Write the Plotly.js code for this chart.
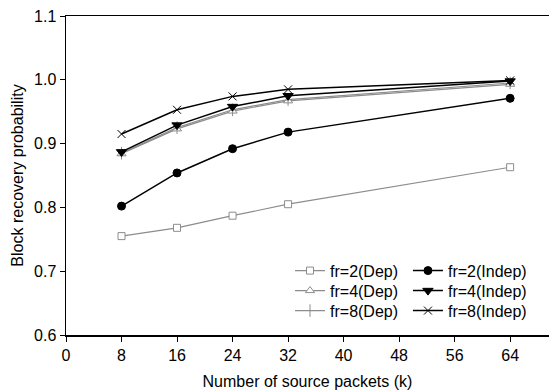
<!DOCTYPE html>
<html>
<head>
<meta charset="utf-8">
<script src="https://cdn.plot.ly/plotly-3.0.1.min.js"></script>
<style>html,body{margin:0;padding:0;background:#fff;}#chart{width:549px;height:390px;}</style>
</head>
<body>
<div id="chart"></div>
<script>
const k = [8, 16, 24, 32, 64];
const fr2Dep = [0.755, 0.768, 0.787, 0.805, 0.863];
const fr2Indep = [0.802, 0.854, 0.892, 0.918, 0.971];
const fr4Dep = [0.884, 0.923, 0.951, 0.967, 0.993];
const fr4Indep = [0.887, 0.929, 0.958, 0.975, 0.998];
const fr8Dep = [0.885, 0.925, 0.953, 0.969, 0.995];
const fr8Indep = [0.915, 0.953, 0.974, 0.985, 0.999];
const names = ['fr=2(Dep)', 'fr=2(Indep)', 'fr=4(Dep)', 'fr=4(Indep)', 'fr=8(Dep)', 'fr=8(Indep)'];
const xTicks = [0, 8, 16, 24, 32, 40, 48, 56, 64];
const yTicks = [0.6, 0.7, 0.8, 0.9, 1.0, 1.1];

const gray = '#8c8c8c';
function tr(y, name, color, symbol, size, fill, legend, lw) {
  return {x: k, y: y, name: name, type: 'scatter', mode: 'lines+markers', legend: legend,
    line: {color: color, width: lw},
    marker: {symbol: symbol, size: size, color: fill, line: {color: color, width: 1}}};
}
const data = [
  tr(fr2Dep, names[0], gray, 'square', 7, '#fff', 'legend', 1.2),
  tr(fr4Dep, names[2], gray, 'triangle-up', 8, '#fff', 'legend3', 1.2),
  tr(fr8Dep, names[4], gray, 'line-ns-open', 9, gray, 'legend5', 1.2),
  tr(fr2Indep, names[1], '#000', 'circle', 8, '#000', 'legend2', 1.5),
  tr(fr4Indep, names[3], '#000', 'triangle-down', 9, '#000', 'legend4', 1.5),
  tr(fr8Indep, names[5], '#000', 'x-thin-open', 8, '#000', 'legend6', 1.5)
];
const font = {family: 'Liberation Sans, Arial, sans-serif', size: 16, color: '#000'};
function leg(x, y) {
  return {font: {family: 'Liberation Sans, Arial, sans-serif', size: 16, color: '#000'},
    bgcolor: 'rgba(0,0,0,0)', borderwidth: 0, yanchor: 'middle', y: y, xanchor: 'left', x: x,
    tracegroupgap: 0, itemwidth: 30};
}
const c1 = 0.4638, c2 = 0.708;
const r1 = 0.2016, r2 = 0.1389, r3 = 0.0762;
const layout = {
  width: 549, height: 390,
  margin: {l: 66, r: 0, t: 16, b: 55},
  paper_bgcolor: '#fff', plot_bgcolor: '#fff',
  font: font,
  showlegend: true,
  xaxis: {range: [0, 69.6], tickvals: xTicks, ticktext: xTicks.map(String),
    showgrid: false, zeroline: false, showline: true, linecolor: '#000', linewidth: 1.5,
    mirror: true, ticks: 'outside', ticklen: 5, tickcolor: '#000',
    title: {text: 'Number of source packets (k)', font: font, standoff: 13}},
  yaxis: {range: [0.6, 1.1], tickvals: yTicks, ticktext: yTicks.map(v => v.toFixed(1)),
    showgrid: false, zeroline: false, showline: true, linecolor: '#000', linewidth: 1.5,
    ticks: 'outside', ticklen: 5, tickcolor: '#000',
    title: {text: 'Block recovery probability', font: font, standoff: 6}},
  legend: leg(c1, r1), legend2: leg(c2, r1),
  legend3: leg(c1, r2), legend4: leg(c2, r2),
  legend5: leg(c1, r3), legend6: leg(c2, r3)
};
Plotly.newPlot('chart', data, layout, {displayModeBar: false, staticPlot: true});
</script>
</body>
</html>
